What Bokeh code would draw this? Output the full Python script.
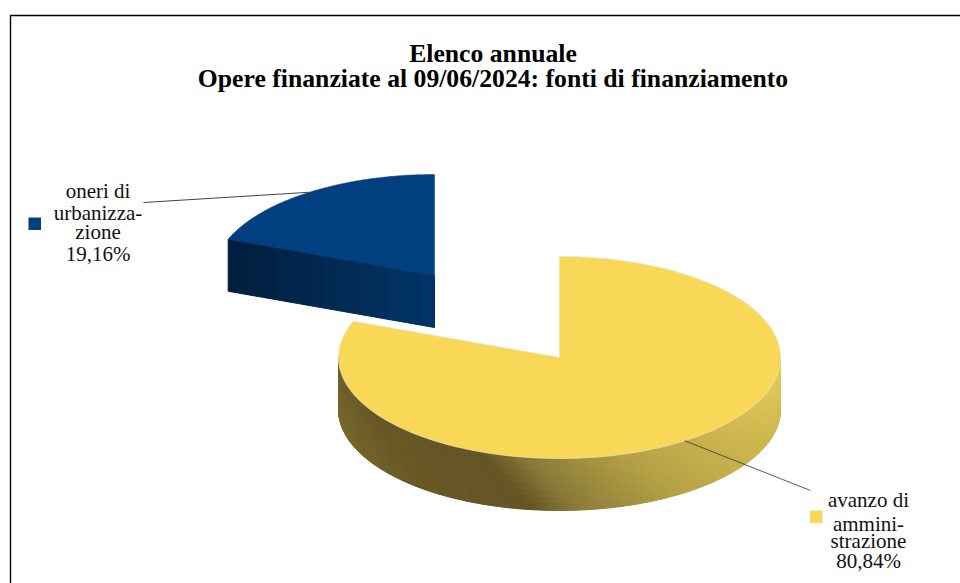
import numpy as np
from bokeh.plotting import figure
from bokeh.models import Range1d
from bokeh.core.properties import value
from bokeh.embed import file_html
from bokeh.resources import INLINE

# data
categories = ["avanzo di amministrazione", "oneri di urbanizzazione"]
shares = [80.84, 19.16]
share_labels = ["80,84%", "19,16%"]
label_lines = [["avanzo di", "ammini-", "strazione"], ["oneri di", "urbanizza-", "zione"]]
title_lines = ["Elenco annuale", "Opere finanziate al 09/06/2024: fonti di finanziamento"]

# style
top_colors = ["#F9D858", "#004080"]
wall_stops_yellow = [(290, "#77682B"), (370, "#685826"), (480, "#655525"), (525, "#8A7A38"),
                     (623, "#B5A045"), (723, "#D0B850"), (780, "#E3CA5A")]
wall_stops_blue = [(228, "#001E3E"), (330, "#002A52"), (434, "#003566")]
centers = [(559, 357), (434, 275)]
RX, RY, DEPTH = 221, 101, 52

W, H = 960, 583
p = figure(width=W, height=H, output_backend="svg", toolbar_location=None,
           x_range=Range1d(0, W), y_range=Range1d(H, 0), min_border=0)
p.axis.visible = False
p.grid.visible = False
p.outline_line_color = None
p.background_fill_color = "white"
p.border_fill_color = "white"

def hex2rgb(c):
    return np.array([int(c[i:i + 2], 16) for i in (1, 3, 5)], float)

def color_at(x, stops):
    xs = [s[0] for s in stops]
    cs = np.array([hex2rgb(s[1]) for s in stops])
    r = [np.interp(x, xs, cs[:, k]) for k in range(3)]
    return "#%02X%02X%02X" % tuple(int(round(v)) for v in r)

def pt(center, deg):
    a = np.radians(deg)
    return center[0] + RX * np.sin(a), center[1] - RY * np.cos(a)

# frame
p.line([10, 10, W], [H, 15, 15], line_color="black", line_width=1.4)

# slice angles, clockwise from 12 o'clock
a0 = 0.0
a1 = a0 + shares[0] / sum(shares) * 360
a2 = 360.0

# yellow wall: visible front half of the rim, with a slanted shading
c = centers[0]
wx, wy, wc = [], [], []
angs = np.linspace(90, 270, 241)
levels = np.linspace(0, DEPTH, 9)
for u, v in zip(angs[:-1], angs[1:]):
    x1, y1 = pt(c, u)
    x2, y2 = pt(c, v)
    for d1, d2 in zip(levels[:-1], levels[1:]):
        wx.append([x1, x2, x2, x1])
        wy.append([y1 + d1, y2 + d1, y2 + d2, y1 + d2])
        wc.append(color_at((x1 + x2) / 2 - (d1 + d2) / 2, wall_stops_yellow))
p.patches(wx, wy, fill_color=wc, line_color=wc, line_width=1)

# yellow top
th = np.linspace(a0, a1, 300)
xs, ys = pt(c, th)
p.patch(list(xs) + [c[0]], list(ys) + [c[1]], fill_color=top_colors[0],
        line_color="#E9E2C0", line_width=0.7)

# blue wall: the cut face seen from the front
c2 = centers[1]
ex, ey = pt(c2, a1)
n = 100
ts = np.linspace(0, 1, n + 1)
wx, wy, wc = [], [], []
for u, v in zip(ts[:-1], ts[1:]):
    x1, y1 = ex + (c2[0] - ex) * u, ey + (c2[1] - ey) * u
    x2, y2 = ex + (c2[0] - ex) * v, ey + (c2[1] - ey) * v
    wx.append([x1, x2, x2, x1])
    wy.append([y1, y2, y2 + DEPTH, y1 + DEPTH])
    wc.append(color_at((x1 + x2) / 2, wall_stops_blue))
p.patches(wx, wy, fill_color=wc, line_color=wc, line_width=1)

# blue top
th = np.linspace(a1, a2, 120)
xs, ys = pt(c2, th)
p.patch(list(xs) + [c2[0]], list(ys) + [c2[1]], fill_color=top_colors[1],
        line_color=top_colors[1], line_width=0.5)

# leaders from slice mid-angles
mx, my = pt(c, (a0 + a1) / 2)
p.line([mx, 810], [my, 490], line_color="#333333", line_width=0.8)
mx, my = pt(c2, (a1 + a2) / 2)
p.line([143, mx], [202, my], line_color="#444444", line_width=1)

# title
FONT = value("Liberation Serif")
for txt, y in zip(title_lines, [53, 78]):
    p.text([492.5], [y], text=[txt], text_font=FONT, text_font_size="25.7px", text_font_style="bold",
           text_align="center", text_baseline="alphabetic", text_color="black")

# legends / labels
label_pos = [(868, [499, 523, 540, 560]), (97.5, [190, 212, 231, 253])]
for i, (lx, yy) in enumerate(label_pos):
    for txt, y in zip(label_lines[i] + [share_labels[i]], yy):
        p.text([lx], [y], text=[txt], text_font=FONT, text_font_size="21px",
               text_align="center", text_baseline="alphabetic", text_color="#111111")

p.quad(left=[809.5, 28], right=[822, 40.5], top=[510, 217], bottom=[522.5, 229.5],
       fill_color=top_colors, line_color=None)

open("out.html", "w").write(file_html(p, INLINE))
